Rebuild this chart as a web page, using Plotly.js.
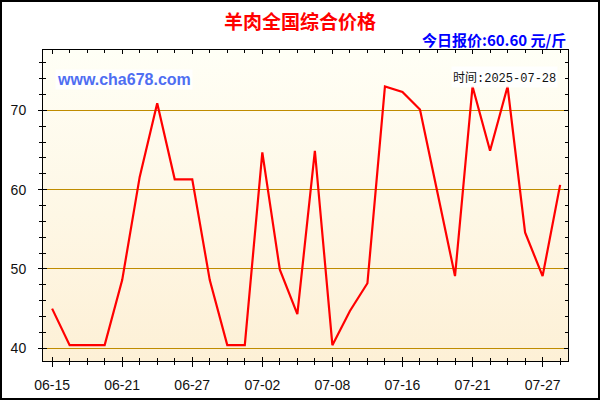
<!DOCTYPE html>
<html>
<head>
<meta charset="utf-8">
<script src="https://cdn.plot.ly/plotly-3.0.1.min.js"></script>
<style>
  body { margin: 0; }
  #wrap { position: relative; width: 600px; height: 400px; }
  #chart { width: 600px; height: 400px; }
  #frame { position: absolute; left: 0; top: 0; width: 600px; height: 400px;
           box-sizing: border-box; border: 2px solid #000; pointer-events: none; }
</style>
</head>
<body>
<div id="wrap">
  <div id="chart"></div>
  <div id="frame"></div>
</div>
<script>
// trading days shown on the chart
const dates = ['06-15','06-16','06-17','06-19','06-21','06-22','06-24','06-25',
               '06-27','06-28','06-30','07-01','07-02','07-03','07-05','07-07',
               '07-08','07-10','07-12','07-14','07-16','07-17','07-18','07-19',
               '07-21','07-23','07-24','07-25','07-27','07-28'];
// price, yuan per jin
const prices = [45.0, 40.4, 40.4, 40.4, 48.6, 61.6, 70.9, 61.3,
                61.3, 48.6, 40.4, 40.4, 64.7, 49.9, 44.3, 64.9,
                40.4, 44.7, 48.2, 73.0, 72.3, 70.1, 59.6, 49.1,
                73.0, 64.9, 73.0, 54.6, 49.1, 60.6];
const yTicks = [40, 50, 60, 70];
const chartTitle = '羊肉全国综合价格';
const todayText = '今日报价:60.60 元/斤';
const siteText = 'www.cha678.com';
const timeLabel = '时间';
const timeValue = '2025-07-28';

const idx = dates.map((d, i) => i);
const labelIdx = idx.filter(i => i % 4 == 0);

const xRange = [-0.52, 29.45];
const yRange = [38.4, 77.6];

// gradient background for the plot area
const bgSvg = '<svg xmlns="http://www.w3.org/2000/svg" width="10" height="100" preserveAspectRatio="none">' +
  '<defs><linearGradient id="g" x1="0" y1="0" x2="0" y2="1">' +
  '<stop offset="0" stop-color="#fffff6"/><stop offset="1" stop-color="#fdf0d6"/>' +
  '</linearGradient></defs><rect width="10" height="100" fill="url(#g)"/></svg>';
const bgUrl = 'data:image/svg+xml;charset=utf-8,' + encodeURIComponent(bgSvg);

const tickFont = {family: 'Liberation Sans, Arial, sans-serif', size: 14, color: '#111'};

var data = [{
    x: idx,
    y: prices,
    text: dates,
    mode: 'lines',
    type: 'scatter',
    line: {color: '#ff0000', width: 2.2},
    hoverinfo: 'text+y'
}, {
    // empty trace so the overlay axes (inner ticks) get drawn
    x: [], y: [], xaxis: 'x2', yaxis: 'y2',
    type: 'scatter', mode: 'lines', hoverinfo: 'skip'
}];

var layout = {
    width: 600,
    height: 400,
    margin: {l: 43, r: 32, t: 50, b: 39},
    paper_bgcolor: '#ffffff',
    plot_bgcolor: '#fffbea',
    showlegend: false,
    title: {
        text: chartTitle,
        font: {family: 'Noto Sans CJK SC', size: 19, color: '#ff0000', weight: 'bold'},
        xref: 'container', x: 0.5, xanchor: 'center',
        yref: 'container', y: 0.945, yanchor: 'middle'
    },
    xaxis: {
        range: xRange,
        tickmode: 'array',
        tickvals: labelIdx,
        ticktext: labelIdx.map(i => dates[i]),
        ticks: 'outside', ticklen: 5, tickwidth: 1, tickcolor: '#000',
        ticklabelstandoff: 6,
        minor: {tickmode: 'linear', tick0: 0, dtick: 1, ticks: 'outside', ticklen: 3, tickcolor: '#000'},
        showline: true, linecolor: '#000', linewidth: 1, mirror: true,
        showgrid: false, zeroline: false,
        tickfont: tickFont
    },
    yaxis: {
        range: yRange,
        tickmode: 'array',
        tickvals: yTicks,
        ticks: 'outside', ticklen: 4, tickwidth: 1, tickcolor: '#000',
        ticklabelstandoff: 9,
        minor: {tickmode: 'linear', tick0: 40, dtick: 2, ticks: 'outside', ticklen: 3, tickcolor: '#000'},
        showline: true, linecolor: '#000', linewidth: 1, mirror: true,
        showgrid: true, gridcolor: '#bf8c00', gridwidth: 1, zeroline: false,
        tickfont: tickFont
    },
    // second pair of axes only for the inner half of the ticks
    xaxis2: {
        overlaying: 'x', anchor: 'y', side: 'bottom', range: xRange,
        tickmode: 'array', tickvals: labelIdx, showticklabels: false,
        ticks: 'inside', ticklen: 4, tickwidth: 1, tickcolor: '#000',
        minor: {tickmode: 'linear', tick0: 0, dtick: 1, ticks: 'inside', ticklen: 3, tickcolor: '#000'},
        mirror: 'allticks', showline: false, showgrid: false, zeroline: false
    },
    yaxis2: {
        overlaying: 'y', anchor: 'x', side: 'left', range: yRange,
        tickmode: 'array', tickvals: yTicks, showticklabels: false,
        ticks: 'inside', ticklen: 4, tickwidth: 1, tickcolor: '#000',
        minor: {tickmode: 'linear', tick0: 40, dtick: 2, ticks: 'inside', ticklen: 3, tickcolor: '#000'},
        mirror: 'allticks', showline: false, showgrid: false, zeroline: false
    },
    images: [{
        source: bgUrl, xref: 'paper', yref: 'paper', x: 0, y: 1,
        sizex: 1, sizey: 1, sizing: 'stretch', layer: 'below',
        xanchor: 'left', yanchor: 'top'
    }],
    annotations: [
        {
            text: todayText, showarrow: false,
            xref: 'paper', yref: 'paper', x: 1, y: 1.035, xanchor: 'right', yanchor: 'middle',
            font: {family: 'Noto Sans CJK SC', size: 15, color: '#0000ff', weight: 'bold'}
        },
        {
            text: siteText, showarrow: false,
            xref: 'paper', yref: 'paper', x: 0.022, y: 0.905, xanchor: 'left', yanchor: 'middle',
            bgcolor: 'rgba(255,255,255,0.85)',
            font: {family: 'Liberation Sans, Arial, sans-serif', size: 16, color: '#4f6ef2', weight: 'bold'}
        },
        {
            text: '<span style="font-family:Noto Sans CJK SC">' + timeLabel + '</span>:' + timeValue,
            showarrow: false,
            xref: 'paper', yref: 'paper', x: 0.98, y: 0.913, xanchor: 'right', yanchor: 'middle',
            bgcolor: 'rgba(255,255,255,0.85)',
            font: {family: 'Liberation Mono, monospace', size: 12, color: '#111'}
        }
    ]
};

Plotly.newPlot('chart', data, layout, {displayModeBar: false, staticPlot: true});
</script>
</body>
</html>
